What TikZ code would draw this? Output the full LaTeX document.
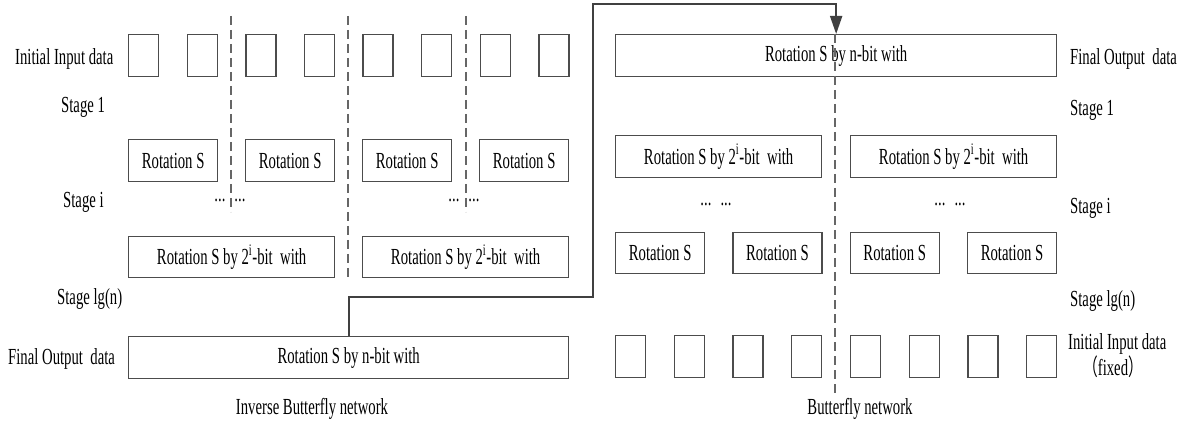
\documentclass[tikz,border=0pt]{standalone}
\usepackage{fontspec}
\setmainfont{Liberation Serif}[FakeStretch=0.64]
\newfontfamily\cjk{Noto Sans CJK SC}[FakeStretch=0.64]
\usetikzlibrary{arrows.meta}

\begin{document}
\begin{tikzpicture}[x=1pt, y=-1pt, font=\fontsize{23}{26}\selectfont,
  box/.style={draw=black!70, line width=1.3pt, inner sep=0pt, anchor=north west},
  cell/.style={box, minimum width=30pt, minimum height=42pt},
  rot/.style={box, minimum width=89pt, minimum height=42pt},
  half/.style={box, minimum width=206pt, minimum height=41pt},
  full/.style={box, minimum width=441pt, minimum height=42pt},
  sep/.style={black!60, line width=1.2pt, dash pattern=on 9pt off 5pt},
  conn/.style={black!75, line width=1.9pt, -{Triangle[length=18pt,width=12pt]}},
  lbl/.style={anchor=base west, inner sep=0pt}]
\useasboundingbox (0,0) rectangle (1189,422);

% inverse butterfly network
\foreach \i in {0,...,7} \node[cell] (inL\i) at ({128+58.6*\i},34) {};
\foreach \i in {0,...,3} \node[rot] (rotL\i) at ({128+117*\i},139) {Rotation S};
\foreach \i in {0,1} \node[half] (halfL\i) at ({128+234*\i},236) {Rotation S by 2\textsuperscript{i}-bit\ \ with};
\node[full, minimum width=440pt] (finL) at (128,336) {Rotation S by n-bit with};
\foreach \xs/\ye in {231/212, 348/279, 466/212} \draw[sep] (\xs,16) -- (\xs,\ye);
\node[anchor=base, inner sep=0pt] (dotsL0) at (230,202) {...\hspace{9pt}...};
\node[anchor=base, inner sep=0pt] (dotsL1) at (464,202) {...\hspace{9pt}...};
\node[lbl] (inLbl) at (15,65) {Initial Input data};
\node[lbl] (st1L) at (61,113) {Stage 1};
\node[lbl] (stiL) at (63,208) {Stage i};
\node[lbl] (stnL) at (57,304) {Stage lg(n)};
\node[lbl] (outLbl) at (8,364) {Final Output\ \ data};
\node[anchor=base, inner sep=0pt] (capL) at (312,414) {Inverse Butterfly network};

% butterfly network
\node[full] (finR) at (615,34) {Rotation S by n-bit with};
\foreach \i in {0,1} \node[half, minimum height=42pt] (halfR\i) at ({615+235*\i},135) {Rotation S by 2\textsuperscript{i}-bit\ \ with};
\foreach \i in {0,...,3} \node[rot, minimum height=41pt] (rotR\i) at ({615+117.3*\i},232) {Rotation S};
\foreach \i in {0,...,7} \node[cell] (inR\i) at ({615+58.7*\i},335) {};
\draw[sep] (835,34) -- (835,393);
\node[anchor=base, inner sep=0pt] (dotsR0) at (716,206) {...\hspace{9pt}...};
\node[anchor=base, inner sep=0pt] (dotsR1) at (950,206) {...\hspace{9pt}...};
\node[lbl] (outRLbl) at (1070,65) {Final Output\ \ data};
\node[lbl] (st1R) at (1070,116) {Stage 1};
\node[lbl] (stiR) at (1070,214) {Stage i};
\node[lbl] (stnR) at (1070,306) {Stage lg(n)};
\node[lbl] (inRLbl) at (1068,349) {Initial Input data};
\node[anchor=base, inner sep=0pt] (fixRLbl) at (1113,375) {{\cjk （}fixed{\cjk ）}};
\node[anchor=base, inner sep=0pt] (capR) at (860,414) {Butterfly network};

% feedback connector
\coordinate (bendA) at (593,297);
\coordinate (bendB) at (593,4);
\draw[conn] (finL.north) |- (bendA) -- (bendB) -| (finR.north);
\end{tikzpicture}
\end{document}
